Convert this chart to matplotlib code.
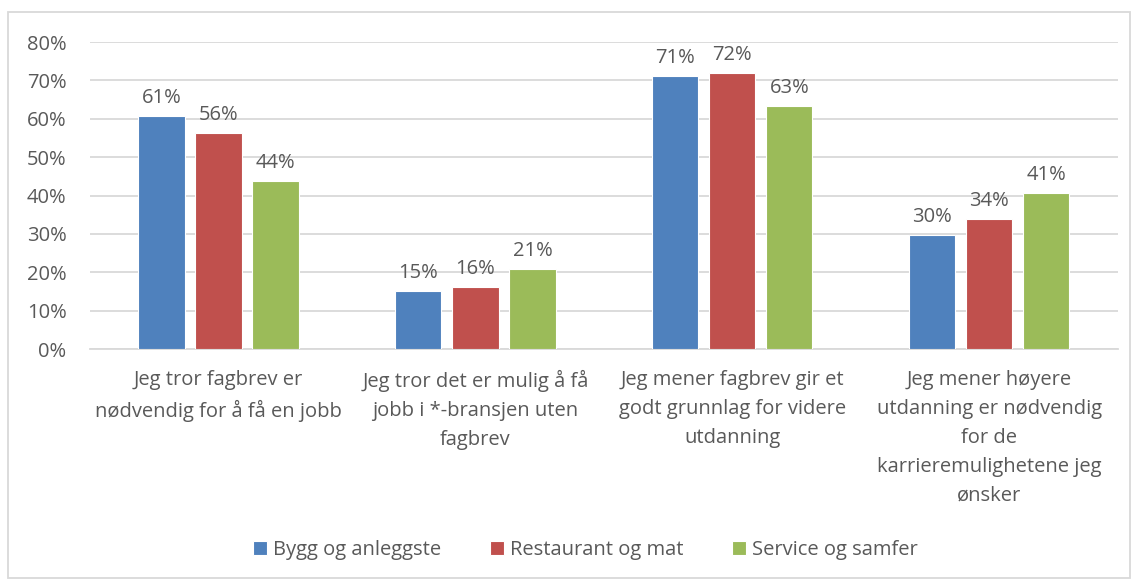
import matplotlib.pyplot as plt
import matplotlib.patches as patches
import numpy as np

# data
categories = ['Jeg tror fagbrev er\nnødvendig for å få en jobb',
              'Jeg tror det er mulig å få\njobb i *-bransjen uten\nfagbrev',
              'Jeg mener fagbrev gir et\ngodt grunnlag for videre\nutdanning',
              'Jeg mener høyere\nutdanning er nødvendig\nfor de\nkarrieremulighetene jeg\nønsker']
series_names = ['Bygg og anleggste', 'Restaurant og mat', 'Service og samfer']
bygg = [0.607, 0.151, 0.711, 0.297]
restaurant = [0.562, 0.161, 0.719, 0.339]
service = [0.437, 0.208, 0.633, 0.406]
colors = ['#4f81bd', '#c0504d', '#9bbb59']
yticks = [0, 0.1, 0.2, 0.3, 0.4, 0.5, 0.6, 0.7, 0.8]

plt.rcParams['font.family'] = ['Open Sans', 'DejaVu Sans']
txt = '#595959'
fs = 14.5

fig = plt.figure(figsize=(11.37, 5.81), dpi=100)
ax = fig.add_axes([0.0792, 0.3993, 0.9038, 0.5284])

x = np.arange(len(categories))
w = 0.18
step = 0.222
for i, (vals, name) in enumerate(zip([bygg, restaurant, service], series_names)):
    pos = x + (i - 1) * step
    ax.bar(pos, vals, width=w, color=colors[i], edgecolor='white', linewidth=0.8,
           label=name, zorder=3)
    for p, v in zip(pos, vals):
        ax.annotate('{:.0f}%'.format(v * 100), (p, v), xytext=(0, 6),
                    textcoords='offset points', ha='center', va='bottom',
                    fontsize=fs, color=txt)

ax.set_xlim(-0.5, 3.5)
ax.set_ylim(0, 0.8)
ax.set_yticks(yticks)
ax.set_yticklabels(['{:.0f}%'.format(t * 100) for t in yticks])
ax.set_xticks(x)
ax.set_xticklabels(categories, linespacing=1.6)
ax.tick_params(axis='both', length=0, labelsize=fs, colors=txt)
ax.tick_params(axis='x', pad=15)
ax.tick_params(axis='y', pad=17)
ax.grid(axis='y', color='#d9d9d9', linewidth=1.3, zorder=0)
for s in ['top', 'right', 'left']:
    ax.spines[s].set_visible(False)
ax.spines['bottom'].set_color('#d9d9d9')
ax.spines['bottom'].set_linewidth(1.3)

leg = fig.legend(loc='center', bbox_to_anchor=(0.515, 0.053), ncol=3, frameon=False,
                 fontsize=fs, handlelength=0.7, handleheight=0.7, handletextpad=0.3,
                 columnspacing=2.4)
for t in leg.get_texts():
    t.set_color(txt)

fig.patches.append(patches.Rectangle((8 / 1137, 3 / 581), 1122 / 1137, 566 / 581,
                                     transform=fig.transFigure, fill=False,
                                     edgecolor='#d9d9d9', linewidth=1.3))

plt.savefig('out.png', dpi=100)
